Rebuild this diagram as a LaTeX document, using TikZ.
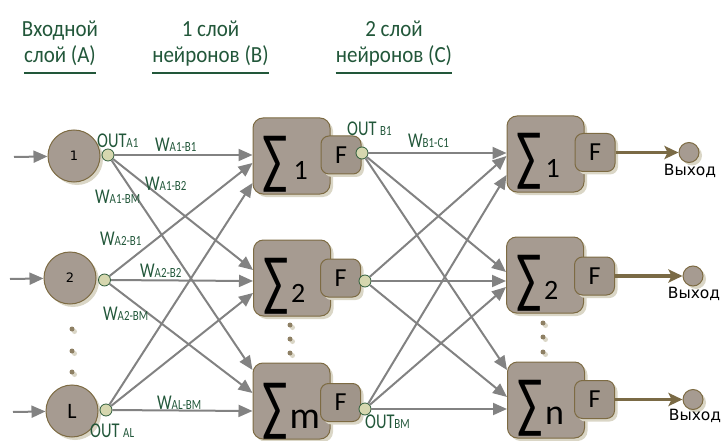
\documentclass[tikz,border=0pt]{standalone}
\usepackage{fontspec}
\setmainfont{Carlito}
\newfontfamily\dejavu{DejaVu Sans}
\usetikzlibrary{arrows.meta,shadows}

\definecolor{nodefill}{HTML}{A69B91}
\definecolor{ffill}{HTML}{A0958A}
\definecolor{nodeedge}{HTML}{7D6B43}
\definecolor{shadowc}{HTML}{DAD6C6}
\definecolor{dotfill}{HTML}{D6D7AF}
\definecolor{dotedge}{HTML}{2F5E3C}
\definecolor{labelc}{HTML}{22573A}
\definecolor{wire}{HTML}{828282}
\definecolor{outwire}{HTML}{7A6A45}
\definecolor{ellfill}{HTML}{8E8064}

% weight / output label: main letters plus a small index
\newcommand\wlab[2]{#1{\fontsize{14}{14}\selectfont #2}}

\begin{document}
\begin{tikzpicture}[x=1pt,y=-1pt,
  softshadow/.style={drop shadow={shadow xshift=3pt,shadow yshift=-3pt,fill=shadowc,opacity=1}},
  neuron/.style={circle,minimum size=52pt,inner sep=0pt,fill=nodefill,draw=nodeedge,line width=1pt,softshadow},
  sumbox/.style={rectangle,rounded corners=10pt,minimum width=77pt,minimum height=76pt,inner sep=0pt,
    fill=nodefill,draw=nodeedge,line width=1pt,softshadow},
  actbox/.style={rectangle,rounded corners=8pt,minimum width=40pt,minimum height=38pt,inner sep=0pt,
    fill=ffill,draw=nodeedge,line width=1pt,softshadow,font=\fontsize{26}{26}\selectfont},
  sigma/.style={anchor=base west,inner sep=0pt,xscale=0.7,text depth=0pt,font=\fontsize{67}{67}\selectfont},
  sumidx/.style={anchor=base west,inner sep=0pt,text depth=0pt},
  port/.style={circle,minimum size=12pt,inner sep=0pt,fill=dotfill,draw=dotedge,line width=0.8pt},
  outdot/.style={circle,minimum size=20pt,inner sep=0pt,fill=nodefill,draw=nodeedge,line width=1pt,softshadow},
  elldot/.style={circle,minimum size=5pt,inner sep=0pt,fill=ellfill,
    drop shadow={shadow xshift=2.5pt,shadow yshift=-2.5pt,fill=shadowc,opacity=1}},
  wirearrow/.style={draw=wire,line width=2pt,-{Triangle[length=14pt,width=12pt]}},
  outarrow/.style={draw=outwire,line width=3.5pt,-{Stealth[length=14pt,width=13pt,inset=3pt]}},
  lbl/.style={text=labelc,font=\fontsize{21}{21}\selectfont,inner sep=0pt,anchor=base west,xscale=0.78},
  head/.style={text=labelc,font=\fontsize{21}{21}\selectfont,inner sep=0pt,anchor=base,yscale=1.1},
  outlbl/.style={font=\dejavu\fontsize{15.5}{15.5}\selectfont,inner sep=0pt}
]
\useasboundingbox (0,0) rectangle (723,441);

% ---- column headings ----
\node[head] (h1a) at (60,37) {Входной};
\node[head] (h1b) at (60,63) {слой (A)};
\node[head] (h2a) at (210.5,37) {1 слой};
\node[head] (h2b) at (210.5,63) {нейронов (B)};
\node[head] (h3a) at (394,37) {2 слой};
\node[head] (h3b) at (394,63) {нейронов (C)};
\foreach \h in {h1b,h2b,h3b}
  \draw[labelc,line width=1.3pt] ([yshift=-10pt]\h.base west) -- ([yshift=-10pt]\h.base east);

% ---- input layer A ----
\node[neuron] (a1) at (74,156) {\dejavu\fontsize{13}{13}\selectfont 1};
\node[neuron] (a2) at (70,278) {\dejavu\fontsize{13}{13}\selectfont 2};
\node[neuron] (aL) at (72,411) {\fontsize{22}{22}\selectfont L};
\node[elldot] (ea1) at (72,329) {};
\node[elldot] (ea2) at (72,351) {};
\node[elldot] (ea3) at (72,372) {};
\node[port] (pa1) at (108,155) {};
\node[port] (pa2) at (104.5,280) {};
\node[port] (paL) at (106,410) {};

\coordinate (in1) at (14,157);
\coordinate (in2) at (10,279);
\coordinate (inL) at (13,412);
\draw[wirearrow] (in1) -- (a1);
\draw[wirearrow] (in2) -- (a2);
\draw[wirearrow] (inL) -- (aL);

% ---- first neuron layer B ----
\node[sumbox] (b1) at (291.5,156) {};
\node[sumbox] (b2) at (292,278) {};
\node[sumbox] (bm) at (291.5,401) {};
\node[sigma] (b1s) at ([xshift=10pt,yshift=13pt]b1.south west) {∑};
\node[sigma] (b2s) at ([xshift=10pt,yshift=13pt]b2.south west) {∑};
\node[sigma] (bms) at ([xshift=10pt,yshift=11pt]bm.south west) {∑};
\node[sumidx,font=\fontsize{28}{28}\selectfont] (b1i) at ([xshift=41pt,yshift=15pt]b1.south west) {1};
\node[sumidx,font=\fontsize{28}{28}\selectfont] (b2i) at ([xshift=38pt,yshift=14pt]b2.south west) {2};
\node[sumidx,font=\fontsize{38}{38}\selectfont] (bmi) at ([xshift=37pt,yshift=11pt]bm.south west) {m};
\node[actbox] (fb1) at (341,155) {F};
\node[actbox] (fb2) at (340.5,278) {F};
\node[actbox] (fbm) at (340.5,402.5) {F};
\node[elldot] (eb1) at (290,325) {};
\node[elldot] (eb2) at (290,339) {};
\node[elldot] (eb3) at (290,353) {};
\node[port] (pb1) at (362,153) {};
\node[port] (pb2) at (365,281) {};
\node[port] (pbm) at (365,409) {};

% ---- second neuron layer C ----
\node[sumbox] (c1) at (545.5,154) {};
\node[sumbox] (c2) at (545,275) {};
\node[sumbox] (cn) at (546,400) {};
\node[sigma] (c1s) at ([xshift=10pt,yshift=14pt]c1.south west) {∑};
\node[sigma] (c2s) at ([xshift=10pt,yshift=13pt]c2.south west) {∑};
\node[sigma] (cns) at ([xshift=10pt,yshift=13pt]cn.south west) {∑};
\node[sumidx,font=\fontsize{28}{28}\selectfont] (c1i) at ([xshift=39pt,yshift=15pt]c1.south west) {1};
\node[sumidx,font=\fontsize{28}{28}\selectfont] (c2i) at ([xshift=38pt,yshift=14pt]c2.south west) {2};
\node[sumidx,font=\fontsize{36}{36}\selectfont] (cni) at ([xshift=38pt,yshift=14pt]cn.south west) {n};
\node[actbox] (fc1) at (595,152.5) {F};
\node[actbox] (fc2) at (594.5,276) {F};
\node[actbox] (fcn) at (594.5,399.5) {F};
\node[elldot] (ec1) at (543,323) {};
\node[elldot] (ec2) at (543,337) {};
\node[elldot] (ec3) at (543,352) {};

% ---- outputs ----
\node[outdot] (y1) at (689,152.5) {};
\node[outdot] (y2) at (693,276) {};
\node[outdot] (yn) at (693,399.5) {};
\draw[outarrow] (fc1) -- (y1);
\draw[outarrow] (fc2) -- (y2);
\draw[outarrow] (fcn) -- (yn);
\node[outlbl] (o1) at (690,171) {Выход};
\node[outlbl] (o2) at (694,294) {Выход};
\node[outlbl] (on) at (695,416) {Выход};

% ---- connections A -> B ----
\draw[wirearrow] (pa1) -- ([yshift=1pt]b1.west);
\draw[wirearrow] (pa1) -- ([yshift=8pt]b2.west);
\draw[wirearrow] (pa1) -- ([yshift=31pt]bm.west);
\draw[wirearrow] (pa2) -- ([yshift=-7pt]b1.west);
\draw[wirearrow] (pa2) -- ([yshift=-3pt]b2.west);
\draw[wirearrow] (pa2) -- ([yshift=8pt]bm.west);
\draw[wirearrow] (paL) -- ([yshift=-27pt]b1.west);
\draw[wirearrow] (paL) -- ([yshift=-15pt]b2.west);
\draw[wirearrow] (paL) -- ([yshift=-10pt]bm.west);

% ---- connections B -> C ----
\draw[wirearrow] (pb1) -- ([yshift=1pt]c1.west);
\draw[wirearrow] (pb1) -- ([yshift=3pt]c2.west);
\draw[wirearrow] (pb1) -- ([yshift=30pt]cn.west);
\draw[wirearrow] (pb2) -- ([yshift=-2pt]c1.west);
\draw[wirearrow] (pb2) -- ([yshift=-6pt]c2.west);
\draw[wirearrow] (pb2) -- ([yshift=3pt]cn.west);
\draw[wirearrow] (pbm) -- ([yshift=-21pt]c1.west);
\draw[wirearrow] (pbm) -- ([yshift=-12pt]c2.west);
\draw[wirearrow] (pbm) -- ([yshift=-9pt]cn.west);

% ---- weight and output labels ----
\node[lbl] (lo1) at (97,148) {\wlab{OUT}{A1}};
\node[lbl] (w11) at (155,152) {\wlab{W}{A1-B1}};
\node[lbl] (w12) at (145,190) {\wlab{W}{A1-B2}};
\node[lbl] (w1m) at (95,203) {\wlab{W}{A1-BM}};
\node[lbl] (w21) at (100,245) {\wlab{W}{A2-B1}};
\node[lbl] (w22) at (140,277) {\wlab{W}{A2-B2}};
\node[lbl] (w2m) at (103,320) {\wlab{W}{A2-BM}};
\node[lbl] (wLm) at (157,409) {\wlab{W}{AL-BM}};
\node[lbl] (loL) at (90,437) {\wlab{OUT }{AL}};
\node[lbl] (lob1) at (347,136) {\wlab{OUT }{B1}};
\node[lbl] (wbc) at (408,148) {\wlab{W}{B1-C1}};
\node[lbl] (lobm) at (365,428) {\wlab{OUT}{BM}};
\end{tikzpicture}
\end{document}
